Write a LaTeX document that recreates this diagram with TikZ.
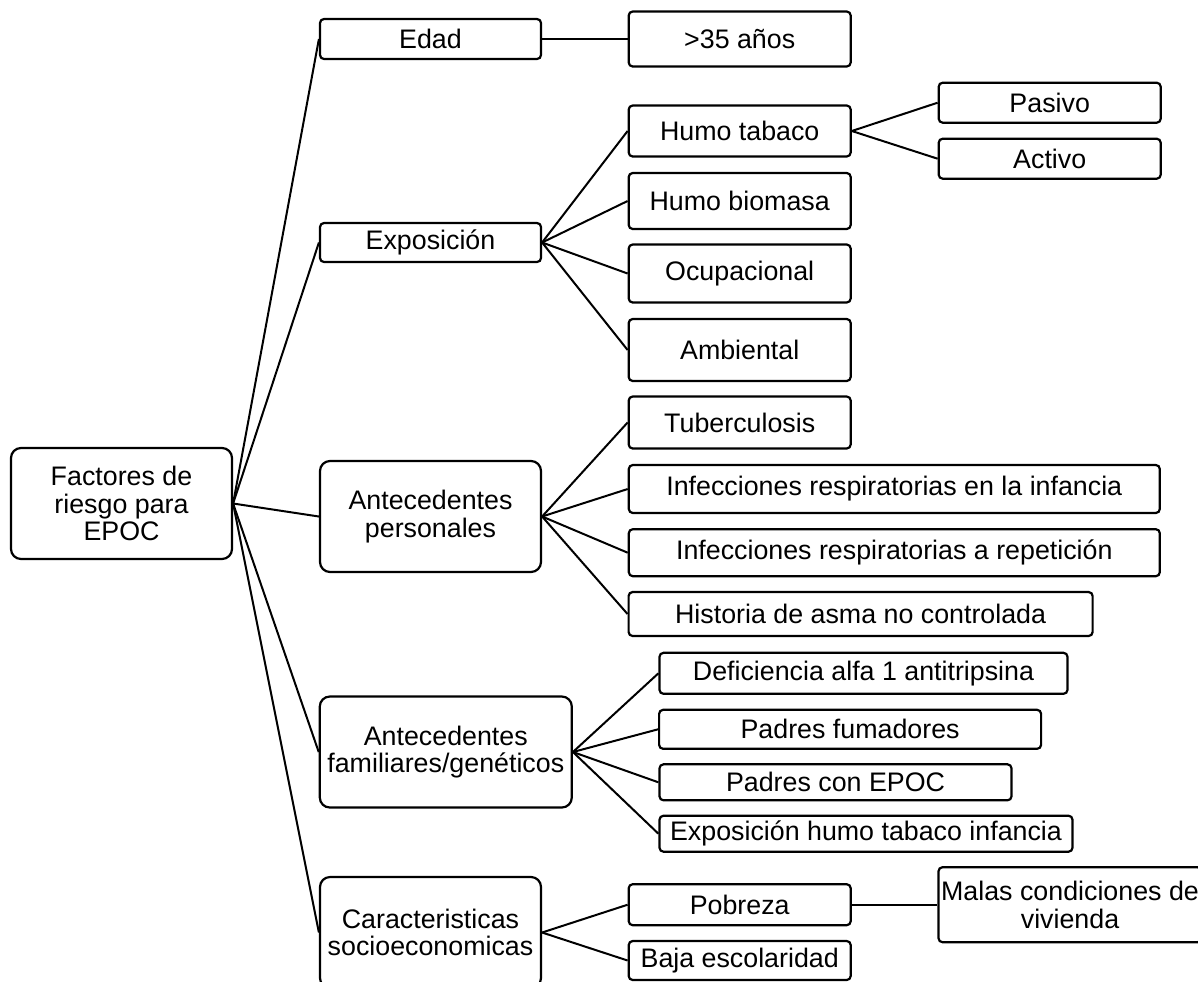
\documentclass[tikz,border=0pt]{standalone}
\usepackage{fontspec}
\setmainfont{Liberation Sans}

\tikzset{
  box/.style={draw, line width=1.1pt, rounded corners=2pt, align=center, inner sep=0pt,
    font=\fontsize{13.4}{13.8}\selectfont},
  bigbox/.style={box, rounded corners=5pt},
  link/.style={line width=1pt}
}

\begin{document}
\begin{tikzpicture}[x=0.5pt,y=0.5pt,yscale=-1,xscale=1]
\useasboundingbox (0,0) rectangle (1198,981);
\clip (0,0) rectangle (1198,981);

% Text Node
\node [bigbox, minimum width=110.5pt, minimum height=55.5pt] (root) at (121.5,503.5) {Factores de\\riesgo para\\EPOC};

% Text Node
\node [box, minimum width=110.5pt, minimum height=20pt] (edad) at (430.5,39) {Edad};
% Text Node
\node [box, minimum width=110.5pt, minimum height=19.5pt] (expo) at (430.5,242.5) {Exposición};
% Text Node
\node [bigbox, minimum width=110.5pt, minimum height=55.5pt] (antper) at (430.5,516.5) {Antecedentes\\personales};
% Text Node
\node [bigbox, minimum width=126pt, minimum height=55.5pt] (antfam) at (445.8,752) {Antecedentes\\familiares/genéticos};
% Text Node
\node [bigbox, minimum width=110.5pt, minimum height=55.5pt] (socio) at (430.5,932.5) {Caracteristicas\\socioeconomicas};

% Text Node
\node [box, minimum width=111pt, minimum height=27.5pt] (mayor) at (739.7,39) {>35 años};
% Text Node
\node [box, minimum width=111pt, minimum height=25.5pt] (tabaco) at (739.7,131) {Humo tabaco};
% Text Node
\node [box, minimum width=111pt, minimum height=20pt] (pasivo) at (1049.7,102.7) {Pasivo};
% Text Node
\node [box, minimum width=111pt, minimum height=20pt] (activo) at (1049.7,158.7) {Activo};
% Text Node
\node [box, minimum width=111pt, minimum height=28pt] (biomasa) at (739.7,201) {Humo biomasa};
% Text Node
\node [box, minimum width=111pt, minimum height=29pt] (ocupa) at (739.7,273.5) {Ocupacional};
% Text Node
\node [box, minimum width=111pt, minimum height=31pt] (ambien) at (739.7,350) {Ambiental};

% Text Node
\node [box, minimum width=111pt, minimum height=26pt] (tuberc) at (739.7,422.5) {Tuberculosis};
% Text Node
\node [box, minimum width=265.5pt, minimum height=24pt] (infinf) at (894.3,489) {Infecciones respiratorias en la infancia};
% Text Node
\node [box, minimum width=265.5pt, minimum height=23.5pt] (infrep) at (894.3,552.7) {Infecciones respiratorias a repetición};
% Text Node
\node [box, minimum width=232pt, minimum height=22pt] (asma) at (860.6,614) {Historia de asma no controlada};

% Text Node
\node [box, minimum width=204pt, minimum height=20.5pt] (alfa) at (863.5,673.3) {Deficiencia alfa 1 antitripsina};
% Text Node
\node [box, minimum width=191pt, minimum height=19.5pt] (padfum) at (850.1,729.3) {Padres fumadores};
% Text Node
\node [box, minimum width=176pt, minimum height=18pt] (padepoc) at (835.5,782.3) {Padres con EPOC};
% Text Node
\node [box, minimum width=206.5pt, minimum height=18pt] (infancia) at (866,833.7) {Exposición humo tabaco infancia};

% Text Node
\node [box, minimum width=111pt, minimum height=20.5pt] (pobreza) at (739.7,904.7) {Pobreza};
% Text Node
\node [box, minimum width=111pt, minimum height=19.5pt] (baja) at (739.7,960.5) {Baja escolaridad};
% Text Node
\node [box, minimum width=131.5pt, minimum height=37.5pt] (vivienda) at (1070,904.7) {Malas condiciones de\\vivienda};

% Connectors
\foreach \n in {edad,expo,antper,antfam,socio}
  \draw [link] (root.east) -- (\n.west);
\draw [link] (edad.east) -- (mayor.west);
\foreach \n in {tabaco,biomasa,ocupa,ambien}
  \draw [link] (expo.east) -- (\n.west);
\draw [link] (tabaco.east) -- (pasivo.west);
\draw [link] (tabaco.east) -- (activo.west);
\foreach \n in {tuberc,infinf,infrep,asma}
  \draw [link] (antper.east) -- (\n.west);
\foreach \n in {alfa,padfum,padepoc,infancia}
  \draw [link] (antfam.east) -- (\n.west);
\draw [link] (socio.east) -- (pobreza.west);
\draw [link] (socio.east) -- (baja.west);
\draw [link] (pobreza.east) -- (vivienda.west);

\end{tikzpicture}
\end{document}
